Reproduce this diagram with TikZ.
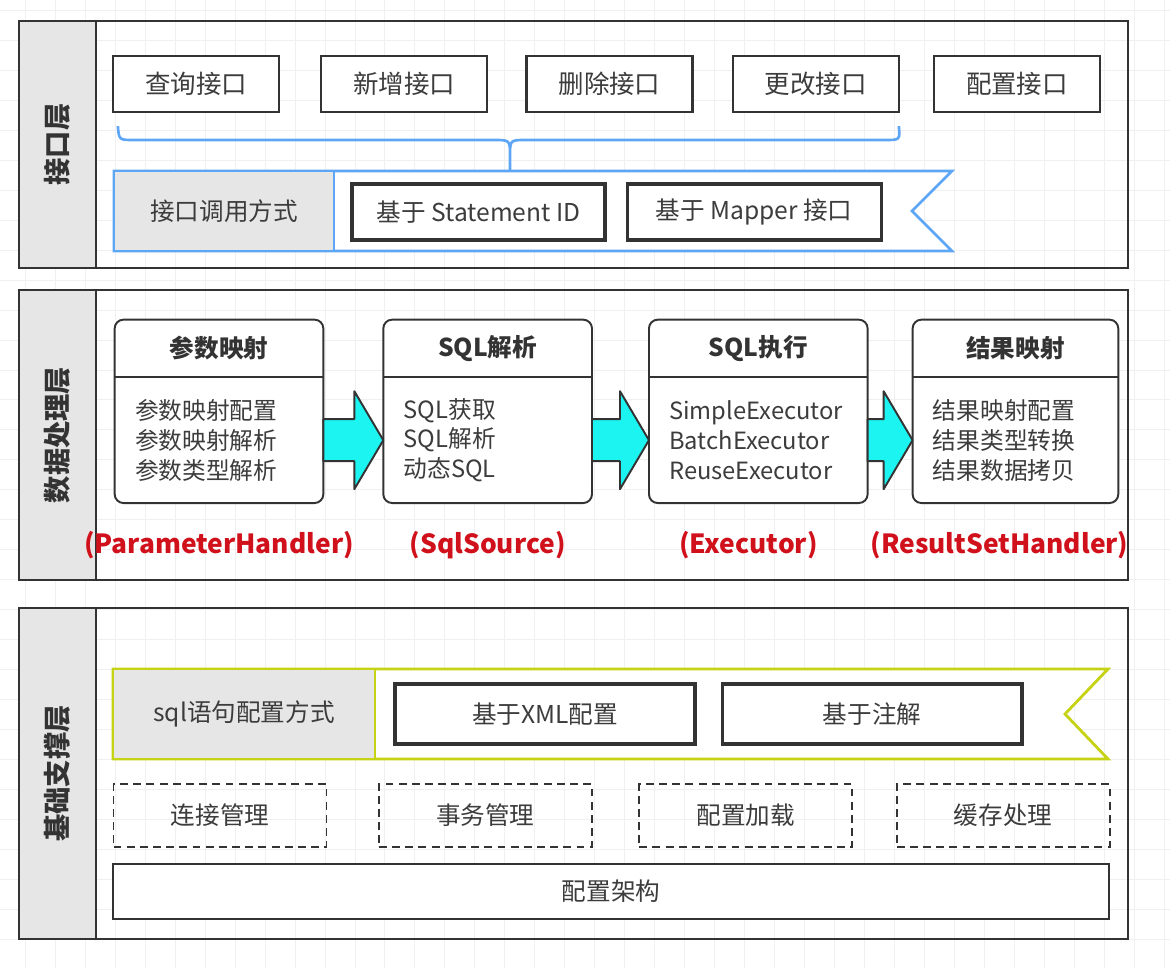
\documentclass[tikz,border=0pt]{standalone}
\usepackage{fontspec}
\setmainfont{Noto Sans CJK SC}
\usepackage{tikz}
\usetikzlibrary{positioning, calc}
\definecolor{linegray}{HTML}{333333}
\definecolor{textgray}{HTML}{3C3C3C}
\definecolor{stripgray}{HTML}{E6E6E6}
\definecolor{gridgray}{HTML}{F0F0F0}
\definecolor{bannerblue}{HTML}{5DA5F5}
\definecolor{banneryellow}{HTML}{C6D214}
\definecolor{arrowcyan}{HTML}{1CF4F2}
\definecolor{handlerred}{HTML}{D0101A}
\tikzset{
    panel style/.style={draw=linegray, line width=1.1pt},
    strip style/.style={draw=linegray, line width=1.1pt, fill=stripgray},
    layer label/.style={rotate=90, text=linegray, font=\fontsize{15.5pt}{18pt}\selectfont\bfseries},
    text style/.style={text=textgray, font=\fontsize{14pt}{17pt}\selectfont},
    api box/.style={draw=linegray, line width=1.3pt, fill=white, minimum width=3.32cm, minimum height=1.12cm, text=textgray, font=\fontsize{14.5pt}{17pt}\selectfont},
    way box/.style={draw=linegray, line width=1.8pt, fill=white, minimum height=1.12cm, text=textgray, font=\fontsize{14pt}{17pt}\selectfont},
    head style/.style={fill=white, minimum width=4.16cm, minimum height=1.14cm, inner sep=0pt, text=linegray, font=\fontsize{14pt}{17pt}\selectfont\bfseries},
    body style/.style={fill=white, text width=3.36cm, inner xsep=0.4cm, minimum height=2.5cm, align=left, text=textgray, font=\fontsize{13.5pt}{17pt}\selectfont},
    frame style/.style={draw=linegray, line width=1.1pt, rounded corners=5pt},
    fat arrow/.style={draw=linegray, line width=1.1pt, fill=arrowcyan, line join=round},
    handler style/.style={text=handlerred, font=\fontsize{15pt}{18pt}\selectfont\bfseries},
    support box/.style={draw=linegray, line width=1.1pt, dash pattern=on 4.5pt off 3pt, minimum width=4.26cm, minimum height=1.26cm, text=textgray, font=\fontsize{14pt}{17pt}\selectfont},
    base box/.style={draw=linegray, line width=1.3pt, fill=white, minimum width=19.92cm, minimum height=1.1cm, text=textgray, font=\fontsize{14pt}{17pt}\selectfont},
}

\begin{document}
\begin{tikzpicture}[x=0.02cm, y=-0.02cm]
    \useasboundingbox (0,0) rectangle (1170,968);
    % grid of the canvas
    \begin{scope}[shift={(25,10)}]
        \draw[gridgray, line width=0.5pt, step=0.6cm] (-25,-10) grid (1145,958);
    \end{scope}

    % 接口层
    \draw[panel style] (19,21) rectangle (1128,268);
    \draw[strip style] (19,21) rectangle (96,268);
    \node[layer label] (apiLayer) at (57.5,144.5) {接口层};

    \node[api box] (query) at (196,84) {查询接口};
    \node[api box, right=0.8cm of query] (insert) {新增接口};
    \node[api box, right=0.74cm of insert] (delete) {删除接口};
    \node[api box, right=0.76cm of delete] (update) {更改接口};
    \node[api box, right=0.66cm of update] (config) {配置接口};

    \coordinate (braceL) at ($(query.south west)+(6,13)$);
    \coordinate (braceR) at ($(update.south east)+(-1,13)$);
    \coordinate (braceTip) at (510,171);
    \draw[bannerblue, line width=1.5pt] (braceL) .. controls (119,140) .. (134,140) -- (494,140)
        .. controls (510,140) .. (510,156) -- (braceTip)
        (510,156) .. controls (510,140) .. (526,140) -- (885,140)
        .. controls (900,140) .. (braceR);

    \draw[bannerblue, line width=1.5pt, fill=white] (114,171) -- (952,171) -- (912,211) -- (952,251) -- (114,251) -- cycle;
    \draw[bannerblue, line width=1.5pt, fill=stripgray] (114,171) rectangle (334,251);
    \node[text style] (callWay) at (224,211) {接口调用方式};
    \node[way box, minimum width=5.06cm] (byId) at (478.5,212) {基于 Statement ID};
    \node[way box, minimum width=5.08cm, right=0.38cm of byId] (byMapper) {基于 Mapper 接口};

    % 数据处理层
    \draw[panel style] (19,290) rectangle (1128,580);
    \draw[strip style] (19,290) rectangle (96,580);
    \node[layer label] (dataLayer) at (57.5,435) {数据处理层};

    \node[head style] (paramHead) at (219,348.5) {参数映射};
    \node[body style, below=0pt of paramHead] (paramBody) {参数映射配置\\参数映射解析\\参数类型解析};
    \node[head style, right=1.2cm of paramHead] (sqlHead) {SQL解析};
    \node[body style, below=0pt of sqlHead] (sqlBody) {SQL获取\\SQL解析\\动态SQL};
    \node[head style, minimum width=4.36cm, right=1.14cm of sqlHead] (execHead) {SQL执行};
    \node[body style, text width=3.56cm, below=0pt of execHead] (execBody) {SimpleExecutor\\BatchExecutor\\ReuseExecutor};
    \node[head style, minimum width=4.1cm, right=0.9cm of execHead] (resultHead) {结果映射};
    \node[body style, text width=3.3cm, below=0pt of resultHead] (resultBody) {结果映射配置\\结果类型转换\\结果数据拷贝};

    \foreach \h/\b in {paramHead/paramBody, sqlHead/sqlBody, execHead/execBody, resultHead/resultBody} {
        \draw[frame style] (\h.north west) rectangle (\b.south east);
        \draw[draw=linegray, line width=1.1pt] (\h.south west) -- (\h.south east);
    }

    \foreach \a/\b in {paramBody/sqlBody, sqlBody/execBody, execBody/resultBody}
        \draw[fat arrow] ($(\a.east)+(0,-21)$) -- ($(\b.west)+(-29,-21)$) -- ($(\b.west)+(-29,-49)$) -- (\b.west)
            -- ($(\b.west)+(-29,49)$) -- ($(\b.west)+(-29,21)$) -- ($(\a.east)+(0,21)$) -- cycle;

    \node[handler style, below=0.44cm of paramBody] (paramHandler) {(ParameterHandler)};
    \node[handler style, below=0.44cm of sqlBody] (sqlSource) {(SqlSource)};
    \node[handler style, below=0.44cm of execBody, xshift=-0.2cm] (executor) {(Executor)};
    \node[handler style, below=0.44cm of resultBody, xshift=-0.32cm] (resultHandler) {(ResultSetHandler)};

    % 基础支撑层
    \draw[panel style] (19,608) rectangle (1128,939);
    \draw[strip style] (19,608) rectangle (96,939);
    \node[layer label] (baseLayer) at (57.5,773.5) {基础支撑层};

    \draw[banneryellow, line width=1.6pt, fill=white] (113,669) -- (1108,669) -- (1065,714) -- (1108,759) -- (113,759) -- cycle;
    \draw[banneryellow, line width=1.6pt, fill=stripgray] (113,669) rectangle (375,759);
    \node[text style] (sqlWay) at (244,714) {sql语句配置方式};
    \node[way box, minimum width=6cm, minimum height=1.2cm] (byXml) at (545,714) {基于XML配置};
    \node[way box, minimum width=6cm, minimum height=1.2cm, right=0.48cm of byXml] (byAnno) {基于注解};

    \node[support box] (connMgr) at (220,815.5) {连接管理};
    \node[support box, right=1.01cm of connMgr] (txMgr) {事务管理};
    \node[support box, right=0.91cm of txMgr] (cfgLoad) {配置加载};
    \node[support box, right=0.85cm of cfgLoad] (cacheMgr) {缓存处理};

    \node[base box] (cfgArch) at (611,891.5) {配置架构};
\end{tikzpicture}
\end{document}
